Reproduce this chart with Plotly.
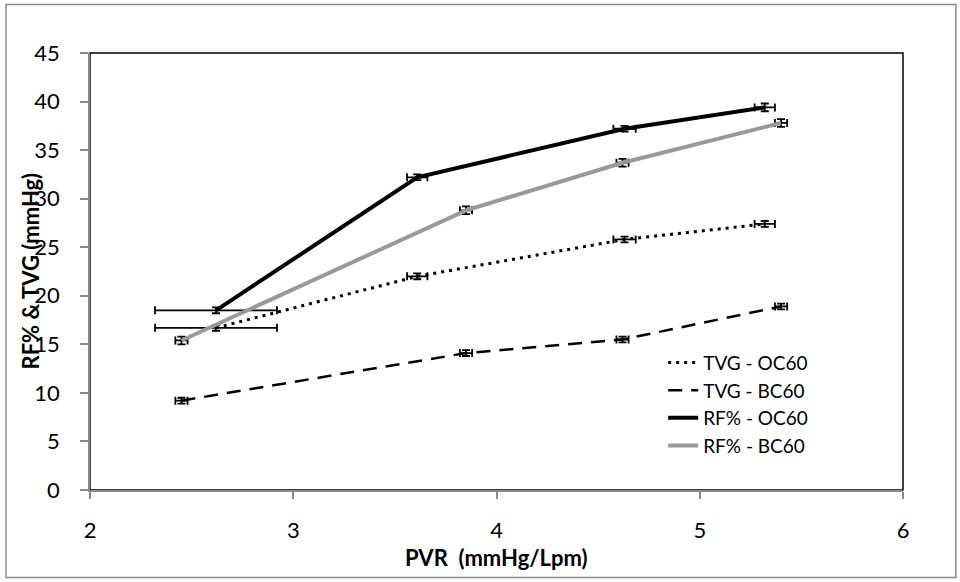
import plotly.graph_objects as go

# ---- data ----
series_names = ["TVG - OC60", "TVG - BC60", "RF% - OC60", "RF% - BC60"]

x_oc60 = [2.62, 3.61, 4.63, 5.32]
x_bc60 = [2.45, 3.85, 4.62, 5.40]

tvg_oc60 = [16.7, 22.0, 25.8, 27.4]
tvg_bc60 = [9.2, 14.1, 15.5, 18.9]
rf_oc60 = [18.5, 32.2, 37.2, 39.4]
rf_bc60 = [15.4, 28.8, 33.7, 37.8]

xerr_oc60 = [0.30, 0.05, 0.055, 0.05]
xerr_bc60 = [0.03, 0.03, 0.03, 0.03]
yerr_tvg_oc60 = [0.3, 0.3, 0.3, 0.3]
yerr_tvg_bc60 = [0.3, 0.3, 0.3, 0.3]
yerr_rf_oc60 = [0.3, 0.3, 0.3, 0.4]
yerr_rf_bc60 = [0.4, 0.4, 0.4, 0.4]

x_ticks = [2, 3, 4, 5, 6]
y_ticks = [0, 5, 10, 15, 20, 25, 30, 35, 40, 45]

FONT = "Lato"
AXIS_GREY = "#898989"
LINE_GREY = "#999999"

def err(arr):
    return dict(type="data", array=arr, visible=True, color="black",
                thickness=1.8, width=4)

fig = go.Figure()

fig.add_trace(go.Scatter(
    x=x_oc60, y=tvg_oc60, mode="lines", name=series_names[0],
    line=dict(color="black", width=3, dash="3px,5px"),
    error_x=err(xerr_oc60), error_y=err(yerr_tvg_oc60)))
fig.add_trace(go.Scatter(
    x=x_bc60, y=tvg_bc60, mode="lines", name=series_names[1],
    line=dict(color="black", width=2.5, dash="14px,9px"),
    error_x=err(xerr_bc60), error_y=err(yerr_tvg_bc60)))
fig.add_trace(go.Scatter(
    x=x_oc60, y=rf_oc60, mode="lines", name=series_names[2],
    line=dict(color="black", width=4),
    error_x=err(xerr_oc60), error_y=err(yerr_rf_oc60)))
fig.add_trace(go.Scatter(
    x=x_bc60, y=rf_bc60, mode="lines", name=series_names[3],
    line=dict(color=LINE_GREY, width=4),
    error_x=err(xerr_bc60), error_y=err(yerr_rf_bc60)))

axis_common = dict(
    showline=True, linecolor=AXIS_GREY, linewidth=1.5,
    ticks="outside", tickcolor=AXIS_GREY, tickwidth=1.5,
    showgrid=False, zeroline=False,
    tickfont=dict(family=FONT, size=22, color="black"),
)

fig.update_xaxes(range=[2, 6], tickvals=x_ticks, ticklen=7,
                 ticklabelstandoff=13, **axis_common)
fig.update_yaxes(range=[0, 45], tickvals=y_ticks, ticklen=8,
                 ticklabelstandoff=16, **axis_common)

fig.update_layout(
    width=960, height=582, autosize=False,
    margin=dict(l=90, r=57, t=53, b=92),
    paper_bgcolor="white", plot_bgcolor="white",
    font=dict(family=FONT, color="black"),
    showlegend=True,
    legend=dict(x=0.705, y=0.335, xanchor="left", yanchor="top",
                bgcolor="rgba(0,0,0,0)", font=dict(family=FONT, size=19),
                tracegroupgap=0),
    shapes=[
        # plot-area border (black top/right)
        dict(type="rect", xref="paper", yref="paper", x0=0, x1=1, y0=0, y1=1,
             line=dict(color="black", width=1.5), layer="below"),
        # chart outer border
        dict(type="rect", xref="paper", yref="paper",
             x0=-0.1033, x1=1.065, y0=-0.2005, y1=1.111,
             line=dict(color=AXIS_GREY, width=1.5), layer="below"),
    ],
    annotations=[
        dict(text="<b>PVR  (mmHg/Lpm)</b>", xref="paper", yref="paper",
             x=0.5, y=-0.1555, xanchor="center", yanchor="middle",
             showarrow=False, font=dict(family=FONT, size=22, color="black")),
        dict(text="<b>RF% & TVG (mmHg)</b>", xref="paper", yref="paper",
             x=-0.0738, y=0.5, xanchor="center", yanchor="middle",
             textangle=-90, showarrow=False,
             font=dict(family=FONT, size=22, color="black")),
    ],
)

fig.write_html("out.html")
